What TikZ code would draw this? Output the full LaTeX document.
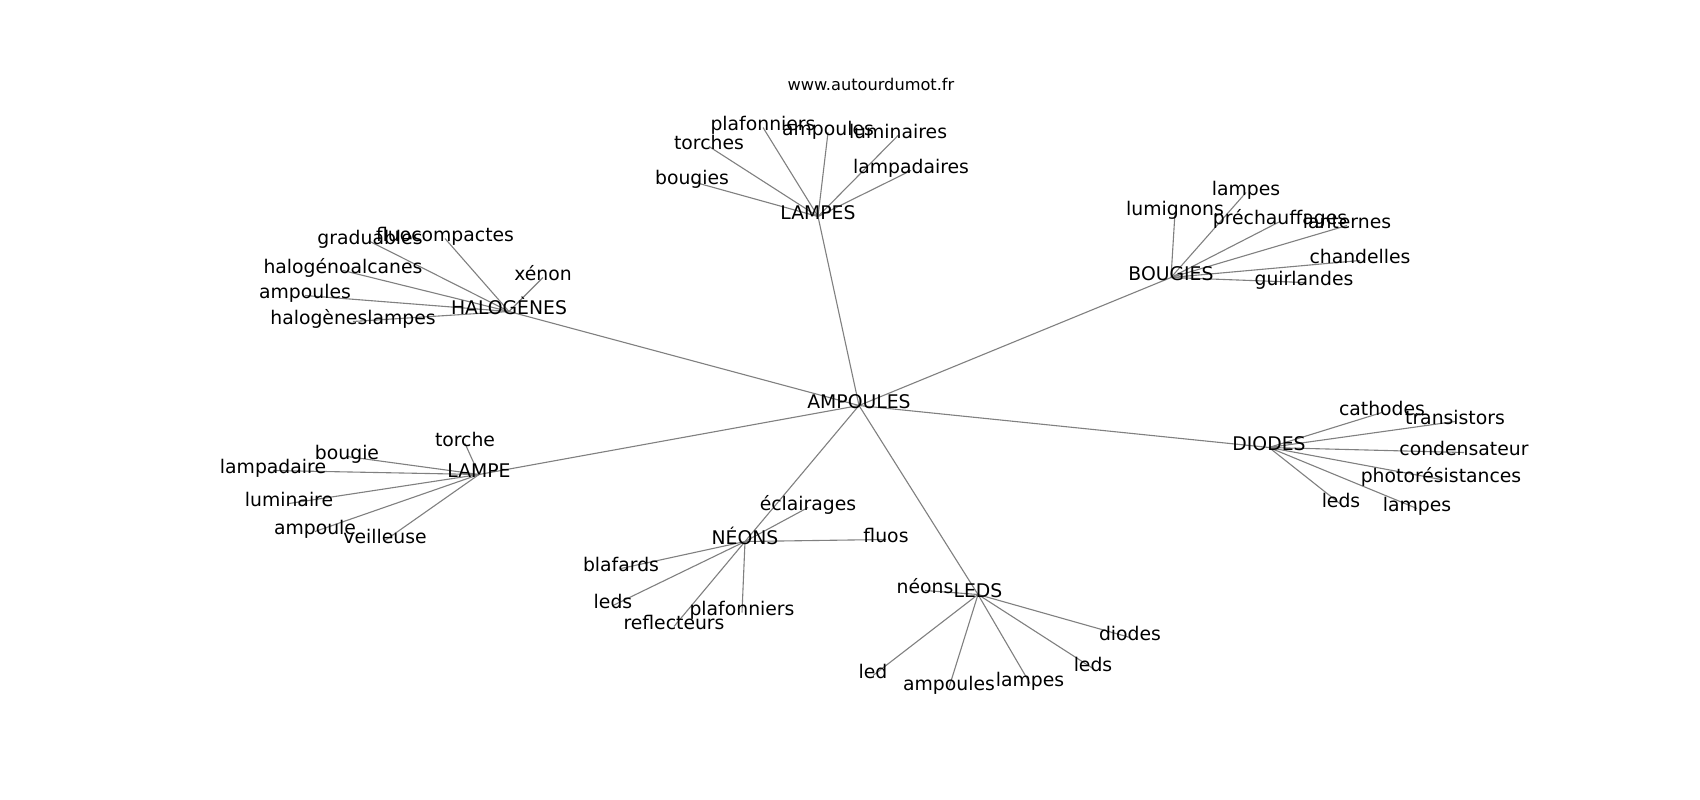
\documentclass[tikz,border=0pt]{standalone}
\usepackage{fontspec}
\setmainfont{DejaVu Sans}
\usetikzlibrary{backgrounds}
\begin{document}
\begin{tikzpicture}[x=1pt,y=-1pt,
  lbl/.style={inner sep=0pt,anchor=center,text height=0.76em,text depth=0.24em,font=\fontsize{18.8}{22}\selectfont},
  ttl/.style={inner sep=0pt,anchor=center,text height=0.76em,text depth=0.24em,font=\fontsize{16.2}{19}\selectfont},
  edge/.style={draw=black!50,line width=1.1pt}]
\useasboundingbox (0,0) rectangle (1700,800);
\begin{scope}[shift={(0,4.5)}]
\node[ttl] (title) at (871,83) {www.autourdumot.fr};
% hubs
\node[lbl] (amp) at (859,401) {AMPOULES};
\node[lbl] (lampes) at (818,212) {LAMPES};
\node[lbl] (boug) at (1171,273) {BOUGIES};
\node[lbl] (halo) at (509,307) {HALOGÈNES};
\node[lbl] (lampe) at (479,470) {LAMPE};
\node[lbl] (neons) at (745,537) {NÉONS};
\node[lbl] (leds) at (978,590) {LEDS};
\node[lbl] (diodes) at (1269,443) {DIODES};
% LAMPES
\node[lbl] (a1) at (763,123) {plafonniers};
\node[lbl] (a2) at (828,128) {ampoules};
\node[lbl] (a3) at (898,131) {luminaires};
\node[lbl] (a4) at (709,142) {torches};
\node[lbl] (a5) at (692,177) {bougies};
\node[lbl] (a6) at (911,166) {lampadaires};
% BOUGIES
\node[lbl] (b1) at (1246,188) {lampes};
\node[lbl] (b2) at (1175,208) {lumignons};
\node[lbl] (b3) at (1280,217) {préchauffages};
\node[lbl] (b4) at (1347,221) {lanternes};
\node[lbl] (b5) at (1360,256) {chandelles};
\node[lbl] (b6) at (1304,278) {guirlandes};
% HALOGENES
\node[lbl] (h1) at (370,237) {graduables};
\node[lbl] (h2) at (445,234) {fluocompactes};
\node[lbl] (h3) at (343,266) {halogénoalcanes};
\node[lbl] (h4) at (543,273) {xénon};
\node[lbl] (h5) at (305,291) {ampoules};
\node[lbl] (h6) at (353,317) {halogèneslampes};
% LAMPE
\node[lbl] (l1) at (465,439) {torche};
\node[lbl] (l2) at (347,452) {bougie};
\node[lbl] (l3) at (273,466) {lampadaire};
\node[lbl] (l4) at (289,499) {luminaire};
\node[lbl] (l5) at (315,527) {ampoule};
\node[lbl] (l6) at (385,536) {veilleuse};
% NEONS
\node[lbl] (n1) at (808,503) {éclairages};
\node[lbl] (n2) at (886,535) {fluos};
\node[lbl] (n3) at (621,564) {blafards};
\node[lbl] (n4) at (613,601) {leds};
\node[lbl] (n5) at (742,608) {plafonniers};
\node[lbl] (n6) at (674,622) {reflecteurs};
% LEDS
\node[lbl] (e1) at (925,586) {néons};
\node[lbl] (e2) at (1130,633) {diodes};
\node[lbl] (e3) at (1093,664) {leds};
\node[lbl] (e4) at (873,671) {led};
\node[lbl] (e5) at (949,683) {ampoules};
\node[lbl] (e6) at (1030,679) {lampes};
% DIODES
\node[lbl] (d1) at (1382,408) {cathodes};
\node[lbl] (d2) at (1455,417) {transistors};
\node[lbl] (d3) at (1464,448) {condensateur};
\node[lbl] (d4) at (1441,475) {photorésistances};
\node[lbl] (d5) at (1341,500) {leds};
\node[lbl] (d6) at (1417,504) {lampes};
\end{scope}
\begin{pgfonlayer}{background}
\fill[white] (0,0) rectangle (1700,800);
\foreach \h in {lampes,boug,halo,lampe,neons,leds,diodes}
  \draw[edge] (amp.center) -- (\h.center);
\foreach \c in {a1,a2,a3,a4,a5,a6} \draw[edge] (lampes.center) -- (\c.center);
\foreach \c in {b1,b2,b3,b4,b5,b6} \draw[edge] (boug.center) -- (\c.center);
\foreach \c in {h1,h2,h3,h4,h5,h6} \draw[edge] (halo.center) -- (\c.center);
\foreach \c in {l1,l2,l3,l4,l5,l6} \draw[edge] (lampe.center) -- (\c.center);
\foreach \c in {n1,n2,n3,n4,n5,n6} \draw[edge] (neons.center) -- (\c.center);
\foreach \c in {e1,e2,e3,e4,e5,e6} \draw[edge] (leds.center) -- (\c.center);
\foreach \c in {d1,d2,d3,d4,d5,d6} \draw[edge] (diodes.center) -- (\c.center);
\end{pgfonlayer}
\end{tikzpicture}
\end{document}
